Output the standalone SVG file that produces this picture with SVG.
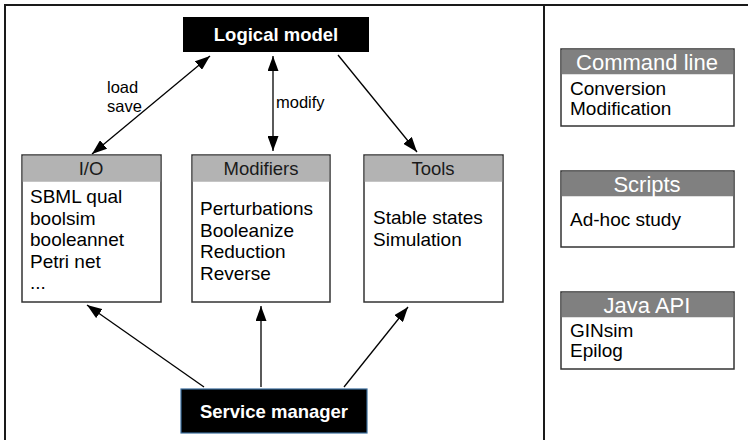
<svg xmlns="http://www.w3.org/2000/svg" width="748" height="440" viewBox="0 0 748 440">
  <style>
    .frame { fill: none; stroke: #1a1a1a; stroke-width: 2; }
    .box { fill: #ffffff; stroke: #333333; stroke-width: 1.5; }
    .hdr { fill: #b3b3b3; }
    .hdr2 { fill: #808080; }
    .dark { fill: #000000; }
    .title { font-family: "Liberation Sans", Arial, sans-serif; font-weight: bold; font-size: 18.5px; fill: #ffffff; text-anchor: middle; }
    .head { font-family: "Liberation Sans", Arial, sans-serif; font-size: 18.5px; fill: #1a1a1a; text-anchor: middle; }
    .head2 { font-family: "Liberation Sans", Arial, sans-serif; font-size: 22px; fill: #ffffff; text-anchor: middle; }
    .item { font-family: "Liberation Sans", Arial, sans-serif; font-size: 19px; fill: #000000; }
    .lbl { font-family: "Liberation Sans", Arial, sans-serif; font-size: 16.5px; fill: #000000; }
    .edge { fill: none; stroke: #000000; stroke-width: 1.3; }
  </style>
  <defs>
    <marker id="arrow" viewBox="0 0 15 11" refX="15" refY="5.5" markerWidth="15" markerHeight="11" markerUnits="userSpaceOnUse" orient="auto-start-reverse">
      <path d="M0,0 L15,5.5 L0,11 z" fill="#000000"/>
    </marker>
  </defs>

  <rect width="748" height="440" fill="#ffffff"/>

  <!-- outer frame and divider -->
  <g id="frame">
    <polyline class="frame" points="5,441 5,5 749,5"/>
    <line class="frame" x1="544" y1="5" x2="544" y2="441"/>
  </g>

  <!-- connectors -->
  <g id="connectors">
    <line class="edge" x1="210" y1="56" x2="92" y2="154" marker-start="url(#arrow)" marker-end="url(#arrow)"/>
    <line class="edge" x1="273" y1="56" x2="273" y2="151" marker-start="url(#arrow)" marker-end="url(#arrow)"/>
    <line class="edge" x1="338" y1="55" x2="417" y2="152" marker-end="url(#arrow)"/>
    <line class="edge" x1="204" y1="387" x2="87" y2="305" marker-end="url(#arrow)"/>
    <line class="edge" x1="261" y1="387" x2="261" y2="306" marker-end="url(#arrow)"/>
    <line class="edge" x1="344" y1="387" x2="408" y2="307" marker-end="url(#arrow)"/>
    <text class="lbl" x="107" y="93">load</text>
    <text class="lbl" x="107" y="112">save</text>
    <text class="lbl" x="276" y="108">modify</text>
  </g>

  <g id="logical-model">
    <rect class="dark" x="183" y="17" width="186" height="35"/>
    <text class="title" x="276" y="41">Logical model</text>
  </g>

  <g id="io">
    <rect class="box" x="22" y="155" width="139" height="147"/>
    <rect class="hdr" x="22.75" y="155.75" width="137.5" height="26"/>
    <text class="head" x="91" y="175">I/O</text>
    <text class="item" x="30" y="203">SBML qual</text>
    <text class="item" x="30" y="224.5">boolsim</text>
    <text class="item" x="30" y="246">booleannet</text>
    <text class="item" x="30" y="267.5">Petri net</text>
    <text class="item" x="30" y="289">...</text>
  </g>

  <g id="modifiers">
    <rect class="box" x="192" y="155" width="138" height="147"/>
    <rect class="hdr" x="192.75" y="155.75" width="136.5" height="26"/>
    <text class="head" x="261" y="175">Modifiers</text>
    <text class="item" x="200" y="215">Perturbations</text>
    <text class="item" x="200" y="236.5">Booleanize</text>
    <text class="item" x="200" y="258">Reduction</text>
    <text class="item" x="200" y="279.5">Reverse</text>
  </g>

  <g id="tools">
    <rect class="box" x="364" y="155" width="139" height="147"/>
    <rect class="hdr" x="364.75" y="155.75" width="137.5" height="26"/>
    <text class="head" x="433" y="175">Tools</text>
    <text class="item" x="373" y="224">Stable states</text>
    <text class="item" x="373" y="246">Simulation</text>
  </g>

  <g id="service-manager">
    <rect class="dark" x="181" y="389" width="186" height="44" stroke="#3a6d9c" stroke-width="1.2"/>
    <text class="title" x="274" y="418">Service manager</text>
  </g>

  <g id="command-line">
    <rect class="box" x="561" y="49" width="173" height="77"/>
    <rect class="hdr2" x="561.75" y="49.75" width="171.5" height="24.5"/>
    <text class="head2" x="647" y="70">Command line</text>
    <text class="item" x="570" y="95">Conversion</text>
    <text class="item" x="570" y="115">Modification</text>
  </g>

  <g id="scripts">
    <rect class="box" x="561" y="171" width="173" height="76"/>
    <rect class="hdr2" x="561.75" y="171.75" width="171.5" height="24.5"/>
    <text class="head2" x="647" y="192">Scripts</text>
    <text class="item" x="570" y="226">Ad-hoc study</text>
  </g>

  <g id="java-api">
    <rect class="box" x="561" y="292" width="173" height="77"/>
    <rect class="hdr2" x="561.75" y="292.75" width="171.5" height="24.5"/>
    <text class="head2" x="647" y="313">Java API</text>
    <text class="item" x="570" y="337">GINsim</text>
    <text class="item" x="570" y="357">Epilog</text>
  </g>
</svg>
